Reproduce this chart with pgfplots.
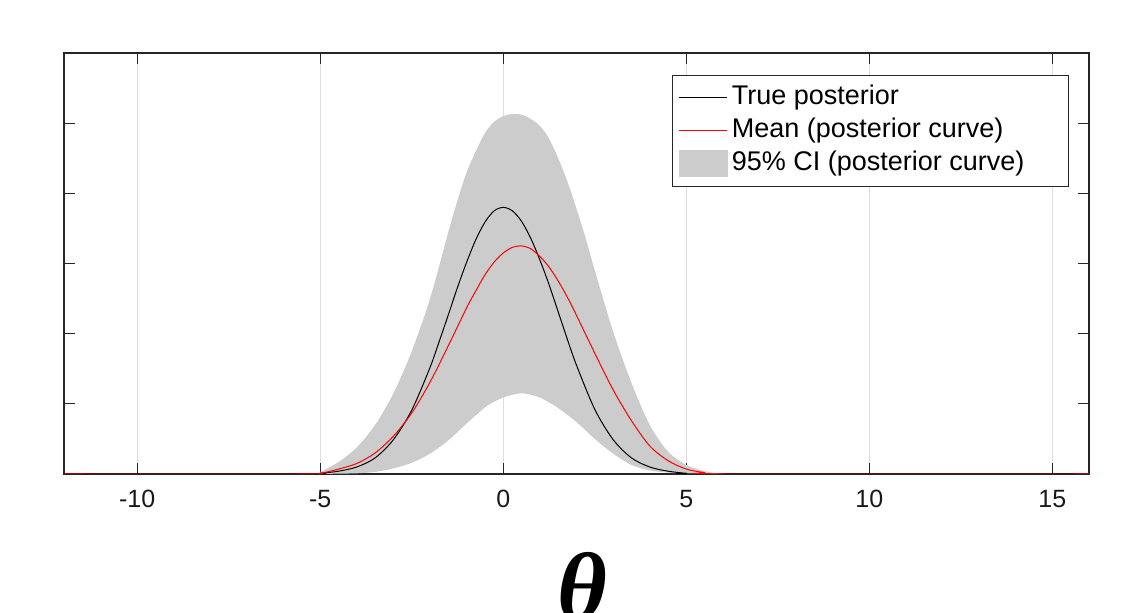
\documentclass[border=0pt]{standalone}
\usepackage{amsmath,amssymb}
\usepackage{pgfplots}
\pgfplotsset{compat=1.18}
\usepackage{pgfplotstable}
\usepgfplotslibrary{fillbetween}
\usepackage{fontspec}
\setmainfont{Liberation Sans}
\newfontfamily\thetafont{Liberation Serif}

\definecolor{ciGray}{rgb}{0.8,0.8,0.8}
\definecolor{axGray}{rgb}{0.15,0.15,0.15}
\definecolor{gridGray}{rgb}{0.87,0.87,0.87}

\pgfplotsset{
  lineleg/.style={legend image code/.code={\draw[##1] (0pt,0pt) -- (24pt,0pt);}},
  boxleg/.style={legend image code/.code={\fill[ciGray] (0pt,-6.5pt) rectangle (24pt,6.5pt);}},
}

% true posterior
\pgfplotstableread{
x y
-12 0
-5.5 0
-5 0.01
-4.5 0.04
-4 0.10
-3.5 0.23
-3 0.49
-2.5 0.91
-2 1.52
-1.75 1.89
-1.5 2.27
-1.25 2.66
-1 3.02
-0.75 3.34
-0.5 3.59
-0.25 3.75
0 3.80
0.25 3.75
0.5 3.60
0.75 3.36
1 3.05
1.25 2.70
1.5 2.31
1.75 1.92
2 1.55
2.5 0.92
3 0.49
3.5 0.23
4 0.10
4.5 0.04
5 0.01
5.5 0
16 0
}\truepost

% mean of the posterior curves
\pgfplotstableread{
x y
-12 0
-5.5 0
-5 0.01
-4.5 0.07
-4 0.15
-3.5 0.30
-3 0.54
-2.5 0.87
-2 1.31
-1.5 1.83
-1 2.37
-0.75 2.61
-0.5 2.84
-0.25 3.02
0 3.15
0.25 3.23
0.5 3.25
0.75 3.21
1 3.10
1.25 2.95
1.5 2.75
1.75 2.52
2 2.26
2.5 1.72
3 1.20
3.5 0.76
4 0.40
4.5 0.19
5 0.07
5.5 0.02
6 0
16 0
}\meancurve

% 95% band
\pgfplotstableread{
x y
-5 0.03
-4.5 0.17
-4 0.38
-3.5 0.70
-3 1.15
-2.5 1.75
-2 2.50
-1.5 3.45
-1.25 3.90
-1 4.30
-0.75 4.60
-0.5 4.86
-0.25 5.02
0 5.10
0.25 5.13
0.5 5.12
0.75 5.06
1 4.96
1.25 4.78
1.5 4.50
1.75 4.17
2 3.78
2.25 3.36
2.5 2.90
3 2.03
3.5 1.30
4 0.70
4.5 0.32
5 0.13
5.5 0.04
6 0
}\ciupper

\pgfplotstableread{
x y
-5 0
-4.5 0.005
-4 0.01
-3.5 0.03
-3 0.08
-2.5 0.16
-2 0.29
-1.5 0.48
-1 0.72
-0.5 0.95
-0.25 1.03
0 1.09
0.25 1.13
0.5 1.15
0.75 1.13
1 1.09
1.25 1.02
1.5 0.94
2 0.74
2.5 0.50
3 0.29
3.5 0.13
4 0.05
4.5 0.02
5 0
5.5 0
6 0
}\cilower

\begin{document}
\begin{tikzpicture}
\begin{axis}[
    name=ax,
    scale only axis,
    width=512.5pt, height=210.5pt,
    xmin=-12, xmax=16, ymin=0, ymax=6,
    xtick={-10,-5,0,5,10,15},
    xticklabels={-10,-5,0,5,10,15},
    ytick={1,2,3,4,5}, yticklabels={},
    tick align=inside,
    major tick length=5.5pt,
    xmajorgrids,
    grid style={gridGray, line width=0.5pt},
    axis line style={axGray, line width=0.6pt},
    every tick/.style={axGray, line width=0.6pt},
    tick label style={font=\fontsize{12.5}{14}\selectfont, text=black!90},
    xticklabel style={yshift=-4.5pt},
    legend cell align=left,
    legend style={at={(0.9805,0.948)}, anchor=north east,
        draw=axGray, line width=0.5pt, fill=white, inner sep=3pt,
        font=\fontsize{13.5}{16}\selectfont,
        nodes={inner ysep=1.5pt, inner xsep=2pt, text height=10pt, text depth=3.5pt}},
]
% legend entries in the reference order
\addlegendimage{black, line width=0.5pt, lineleg}
\addlegendentry{True posterior}
\addlegendimage{red, line width=0.5pt, lineleg}
\addlegendentry{Mean (posterior curve)}
\addlegendimage{boxleg}
\addlegendentry{95\% CI (posterior curve)\hspace*{17pt}}

\addplot[name path=up, draw=none, smooth, forget plot] table[x=x,y=y] {\ciupper};
\addplot[name path=lo, draw=none, smooth, forget plot] table[x=x,y=y] {\cilower};
\addplot[ciGray, draw=none, forget plot] fill between[of=up and lo];

\addplot[black, line width=0.5pt, smooth, forget plot] table[x=x,y=y] {\truepost};
\addplot[red, line width=0.5pt, smooth, forget plot] table[x=x,y=y] {\meancurve};
\end{axis}

\node[anchor=north, inner sep=0pt] at ([xshift=3pt, yshift=-38.8pt]ax.south)
    {\fontsize{48}{50}\selectfont\thetafont\bfseries\itshape θ};

\pgfresetboundingbox
\path[use as bounding box] ([shift={(-32pt,-69.5pt)}]ax.south west)
    rectangle ([shift={(530pt,237pt)}]ax.south west);
\end{tikzpicture}
\end{document}
